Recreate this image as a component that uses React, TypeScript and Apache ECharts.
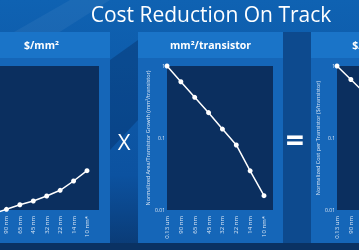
import React, { useEffect, useRef } from "react";
import * as echarts from "echarts";

const categories = ["0.13 um", "90 nm", "65 nm", "45 nm", "32 nm", "22 nm", "14 nm", "10 nm*"];
const costPerArea = [1.0, 1.076, 1.155, 1.224, 1.323, 1.446, 1.671, 1.962];
const areaPerTransistor = [1, 0.605, 0.367, 0.225, 0.133, 0.08, 0.035, 0.0158];
const costPerTransistor = [1, 0.65, 0.42, 0.275, 0.176, 0.116, 0.058, 0.031];
const panelTitles = ["$/mm²", "mm²/transistor", "$/transistor"];
const axisNames = [
  "",
  "Normalized Area/Transistor Growth (mm²/transistor)",
  "Normalized Cost per Transistor ($/transistor)",
];

const FONT = "'Open Sans', 'Noto Sans', sans-serif";
const FRAME = "#1566b8";
const HEADER = "#1a74c8";
const PLOT = "#0b2f5f";
const TXT = "#dbe7f5";
const OFF = 50;
const CW = 560;
const CH = 250;

export default function App() {
  const ref = useRef<HTMLDivElement>(null);
  useEffect(() => {
    if (!ref.current) return;
    const chart = echarts.init(ref.current, null, { renderer: "svg" });
    const panels = [
      { x: -35, w: 145, plotX: -10, plotW: 109 },
      { x: 138, w: 145, plotX: 167, plotW: 106 },
      { x: 311, w: 145, plotX: 337, plotW: 106 },
    ];
    const graphics: any[] = [
      { type: "rect", shape: { x: 0, y: 0, width: CW, height: CH }, style: { fill: new echarts.graphic.LinearGradient(0, 0, 0, 1, [{ offset: 0, color: "#0f62b2" }, { offset: 0.7, color: "#0c52a0" }, { offset: 1, color: "#0a3a74" }]) }, z: -20 },
      { type: "polygon", shape: { points: [[OFF + 0, 40], [OFF + 70, 0], [OFF + 110, 0], [OFF + 0, 70]] }, style: { fill: "rgba(255,255,255,0.05)" }, z: -19 },
      { type: "polygon", shape: { points: [[OFF + 110, 60], [OFF + 138, 40], [OFF + 138, 120], [OFF + 110, 150]] }, style: { fill: "rgba(0,20,60,0.25)" }, z: -19 },
      { type: "rect", shape: { x: OFF + 283, y: 32, width: 28, height: 211 }, style: { fill: "#0d4a8e" }, z: -19 },
      { type: "rect", shape: { x: 0, y: 243, width: CW, height: 7 }, style: { fill: "#0a3263" }, z: -19 },
      { type: "text", x: OFF + 211, y: 14, style: { text: "Cost Reduction On Track", fill: "#ffffff", fontSize: 21, fontFamily: FONT, align: "center", verticalAlign: "middle" }, z: 5 },
      { type: "text", x: OFF + 124, y: 141, style: { text: "X", fill: "#ffffff", fontSize: 22, fontFamily: FONT, align: "center", verticalAlign: "middle" }, z: 5 },
      { type: "text", x: OFF + 295, y: 139, style: { text: "=", fill: "#ffffff", fontSize: 32, fontWeight: "bold", fontFamily: FONT, align: "center", verticalAlign: "middle" }, z: 5 },
    ];
    panels.forEach((p, i) => {
      graphics.push({ type: "rect", shape: { x: OFF + p.x, y: 32, width: p.w, height: 211 }, style: { fill: FRAME }, z: -15 });
      graphics.push({ type: "rect", shape: { x: OFF + p.x, y: 32, width: p.w, height: 26 }, style: { fill: HEADER }, z: -14 });
      graphics.push({ type: "rect", shape: { x: OFF + p.plotX, y: 66, width: p.plotW, height: 144 }, style: { fill: PLOT }, z: -14 });
      graphics.push({ type: "text", x: OFF + p.x + p.w / 2 + (i === 0 ? 4 : 0), y: 45, style: { text: panelTitles[i], fill: "#ffffff", fontSize: 10.5, fontWeight: "bold", fontFamily: FONT, align: "center", verticalAlign: "middle" }, z: 5 });
    });

    const xAxisBase = (gi: number, margin: number) => ({
      type: "category",
      gridIndex: gi,
      data: categories,
      boundaryGap: false,
      axisLine: { show: false },
      axisTick: { show: false },
      axisLabel: { rotate: 90, fontSize: 6, color: TXT, margin, fontFamily: FONT, interval: 0 },
      splitLine: { show: false },
      z: 10,
    });
    const yLog = (gi: number, min: number, max: number, show: boolean, name: string) => ({
      type: "log",
      gridIndex: gi,
      min,
      max,
      logBase: 10,
      show,
      name,
      nameLocation: "middle",
      nameGap: 13,
      nameRotate: 90,
      nameTextStyle: { fontSize: 5.5, color: TXT, fontFamily: FONT },
      axisLine: { show: false },
      axisTick: { show: false },
      splitLine: { show: false },
      axisLabel: { fontSize: 5, color: TXT, margin: 2, fontFamily: FONT },
      z: 10,
    });
    const line = (i: number, data: number[]) => ({
      type: "line",
      xAxisIndex: i,
      yAxisIndex: i,
      data,
      symbol: "circle",
      symbolSize: 5,
      showSymbol: true,
      clip: false,
      lineStyle: { color: "#ffffff", width: 1.5 },
      itemStyle: { color: "#ffffff" },
      z: 10,
    });
    const grid = (x0: number, x1: number, bottomY: number) => ({
      left: OFF + x0,
      right: CW - (OFF + x1),
      top: 66,
      bottom: CH - bottomY,
    });

    chart.setOption({
      animation: false,
      graphic: { elements: graphics },
      grid: [grid(-7, 87, 214), grid(167, 264, 210), grid(337, 434, 210)],
      xAxis: [xAxisBase(0, 2), xAxisBase(1, 6), xAxisBase(2, 6)],
      yAxis: [
        yLog(0, 1, 10, false, axisNames[0]),
        yLog(1, 0.01, 1, true, axisNames[1]),
        yLog(2, 0.01, 1, true, axisNames[2]),
      ],
      series: [line(0, costPerArea), line(1, areaPerTransistor), line(2, costPerTransistor)],
    });
    return () => chart.dispose();
  }, []);
  return (
    <div style={{ position: "fixed", left: 0, top: 0, width: 359, height: 250, overflow: "hidden" }}>
      <div ref={ref} style={{ position: "absolute", left: -OFF, top: 0, width: CW, height: CH }} />
    </div>
  );
}
